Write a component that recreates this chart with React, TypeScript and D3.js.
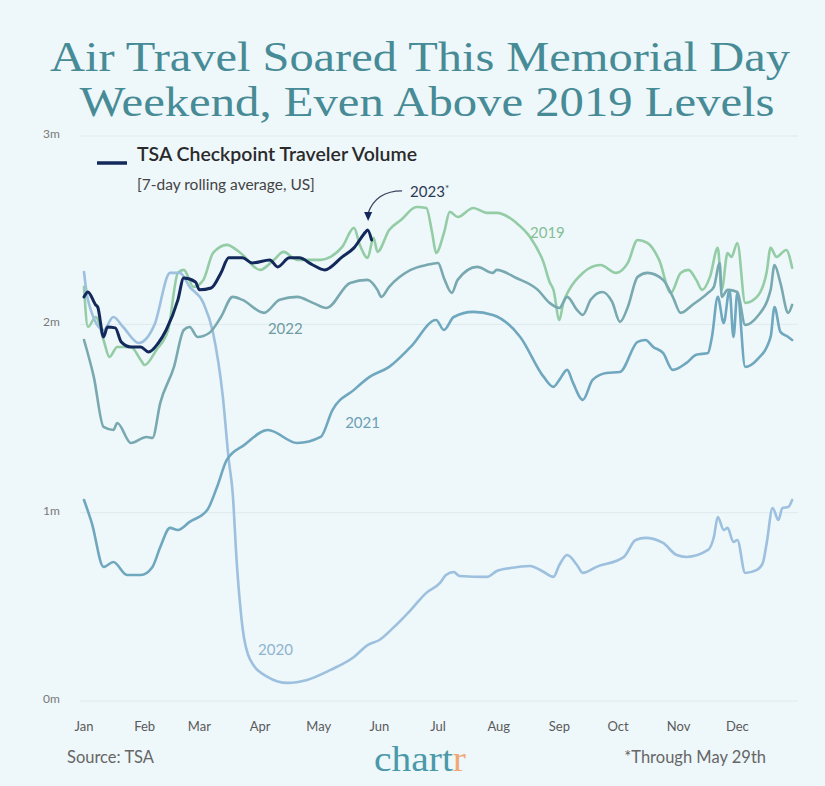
import React from "react";
import * as d3 from "d3";

if (typeof document !== "undefined") {
  document.body.style.margin = "0";
}

// [day of year, travelers in millions]
const series2019: [number, number][] = [
  [0, 2.199], [2, 1.986], [6, 2.039], [10, 1.917], [13, 1.827], [17, 1.88], [24, 1.88], [29, 1.811],
  [31, 1.784], [37, 1.864], [43, 1.97], [48, 2.273], [51, 2.289], [56, 2.199], [61, 2.236], [66, 2.379],
  [73, 2.422], [80, 2.379], [90, 2.289], [97, 2.342], [102, 2.385], [109, 2.342], [121, 2.342], [126, 2.358],
  [132, 2.411], [138, 2.512], [141, 2.422], [145, 2.353], [148, 2.459], [150, 2.385], [156, 2.501], [162, 2.554],
  [170, 2.623], [175, 2.618], [178, 2.485], [180, 2.379], [184, 2.485], [187, 2.597], [191, 2.57], [199, 2.618],
  [206, 2.592], [211, 2.592], [221, 2.539], [228, 2.464], [235, 2.326], [238, 2.225], [240, 2.183], [243, 2.023],
  [245, 2.114], [248, 2.183], [255, 2.273], [264, 2.315], [272, 2.273], [278, 2.326], [283, 2.448], [288, 2.432],
  [294, 2.342], [300, 2.167], [305, 2.273], [309, 2.289], [313, 2.236], [316, 2.183], [320, 2.252], [324, 2.406],
  [326, 2.183], [329, 2.379], [331, 2.358], [334, 2.432], [338, 2.114], [344, 2.146], [349, 2.278], [351, 2.406],
  [354, 2.358], [359, 2.395], [362, 2.3],
];

const series2020: [number, number][] = [
  [0, 2.278], [2, 2.13], [10, 1.97], [15, 2.039], [20, 1.986], [28, 1.901], [36, 1.997], [44, 2.273],
  [49, 2.273], [54, 2.199], [61, 2.114], [66, 1.954], [71, 1.614], [74, 1.28], [76, 1.105], [78, 0.749],
  [81, 0.393], [85, 0.218], [94, 0.127], [104, 0.096], [114, 0.112], [126, 0.165], [138, 0.234], [145, 0.297],
  [151, 0.324], [158, 0.388], [167, 0.483], [175, 0.574], [182, 0.627], [185, 0.669], [189, 0.685], [192, 0.664],
  [206, 0.659], [211, 0.69], [218, 0.706], [228, 0.717], [235, 0.685], [240, 0.659], [243, 0.722], [247, 0.775],
  [252, 0.722], [255, 0.68], [262, 0.712], [276, 0.765], [282, 0.855], [287, 0.866], [296, 0.839], [303, 0.775],
  [308, 0.765], [319, 0.802], [322, 0.871], [324, 0.977], [327, 0.908], [329, 0.919], [332, 0.844], [334, 0.855],
  [338, 0.68], [344, 0.696], [347, 0.733], [349, 0.839], [352, 1.025], [355, 0.961], [357, 1.025], [360, 1.03],
  [362, 1.067],
];

const series2021: [number, number][] = [
  [0, 1.067], [4, 0.945], [10, 0.712], [15, 0.738], [22, 0.669], [29, 0.669], [35, 0.712], [39, 0.818],
  [44, 0.919], [48, 0.908], [54, 0.951], [63, 1.014], [68, 1.136], [73, 1.28], [82, 1.36], [94, 1.439],
  [109, 1.37], [121, 1.402], [127, 1.545], [138, 1.652], [146, 1.721], [156, 1.774], [167, 1.88], [180, 2.023],
  [184, 1.97], [189, 2.039], [199, 2.066], [209, 2.05], [223, 1.933], [235, 1.721], [240, 1.668], [243, 1.705],
  [247, 1.758], [250, 1.689], [255, 1.599], [260, 1.705], [267, 1.742], [274, 1.747], [283, 1.907], [287, 1.917],
  [291, 1.88], [296, 1.848], [301, 1.758], [308, 1.795], [313, 1.838], [319, 1.848], [321, 1.933], [324, 2.146],
  [327, 2.007], [330, 2.183], [332, 1.933], [334, 2.167], [338, 1.774], [344, 1.811], [351, 1.933], [353, 2.092],
  [356, 1.96], [360, 1.933], [362, 1.917],
];

const series2022: [number, number][] = [
  [0, 1.917], [5, 1.721], [10, 1.455], [15, 1.439], [17, 1.476], [24, 1.37], [32, 1.402], [35, 1.397],
  [39, 1.583], [46, 1.774], [51, 1.97], [54, 1.986], [58, 1.933], [64, 1.954], [70, 2.039], [76, 2.146],
  [81, 2.13], [92, 2.061], [100, 2.13], [109, 2.146], [117, 2.114], [124, 2.087], [136, 2.22], [145, 2.236],
  [150, 2.183], [152, 2.146], [156, 2.199], [167, 2.289], [175, 2.315], [181, 2.326], [184, 2.246], [188, 2.167],
  [191, 2.236], [201, 2.305], [209, 2.273], [211, 2.289], [221, 2.246], [232, 2.183], [238, 2.114], [243, 2.087],
  [247, 2.146], [252, 2.077], [255, 2.05], [259, 2.13], [265, 2.172], [270, 2.119], [274, 2.013], [278, 2.092],
  [283, 2.252], [288, 2.273], [296, 2.236], [301, 2.146], [305, 2.061], [311, 2.103], [319, 2.167], [322, 2.199],
  [325, 2.326], [326, 2.146], [329, 2.183], [334, 2.172], [338, 1.997], [344, 2.039], [351, 2.183], [353, 2.315],
  [356, 2.22], [360, 2.061], [362, 2.103],
];

const series2023: [number, number][] = [
  [0, 2.146], [2, 2.172], [6, 2.103], [7, 2.092], [10, 1.933], [12, 1.986], [16, 1.981], [19, 1.907],
  [24, 1.88], [29, 1.88], [33, 1.853], [38, 1.901], [42, 1.97], [48, 2.13], [51, 2.246], [57, 2.225],
  [59, 2.183], [65, 2.193], [70, 2.273], [74, 2.353], [81, 2.353], [86, 2.326], [95, 2.342], [99, 2.305],
  [105, 2.353], [110, 2.353], [117, 2.315], [123, 2.289], [132, 2.358], [138, 2.406], [144, 2.491], [145, 2.501],
  [147, 2.448],
];

const monthLabels = ["Jan", "Feb", "Mar", "Apr", "May", "Jun", "Jul", "Aug", "Sep", "Oct", "Nov", "Dec"];
const monthStartDays = [0, 31, 59, 90, 120, 151, 181, 212, 243, 273, 304, 334];
const yTicks = [0, 1, 2, 3];
const yTickLabels = ["0m", "1m", "2m", "3m"];

const seriesLabels = [
  { text: "2019", day: 228, value: 2.46, color: "#84bf96" },
  { text: "2022", day: 94, value: 1.95, color: "#6f9ba2" },
  { text: "2021", day: 133.5, value: 1.45, color: "#6b9fb4" },
  { text: "2020", day: 89, value: 0.245, color: "#8fb4cf" },
];

const W = 825;
const H = 786;
const BG = "#eef7fa";

export default function App() {
  const x = d3.scaleLinear().domain([0, 365]).range([84, 798]);
  const y = d3.scaleLinear().domain([0, 3]).range([701, 136]);
  const line = d3
    .line<[number, number]>()
    .x((d) => x(d[0]))
    .y((d) => y(d[1]))
    .curve(d3.curveMonotoneX);

  const lines = [
    { data: series2019, color: "#93cca5", width: 2.6 },
    { data: series2020, color: "#9cc0de", width: 2.6 },
    { data: series2021, color: "#6fa7bf", width: 2.6 },
    { data: series2022, color: "#78a9b0", width: 2.6 },
    { data: series2023, color: "#14295b", width: 3 },
  ];

  const last2023 = series2023[series2023.length - 2];
  const ax = x(last2023[0]) + 0.5;
  const ay = y(last2023[1]) - 12;
  const lx = x(166.7);
  const ly = y(2.677);

  return (
    <svg width={W} height={H} style={{ display: "block" }}>
      <rect x={0} y={0} width={W} height={H} fill={BG} />
      <text
        x={420}
        y={71}
        textAnchor="middle"
        fontFamily="'Liberation Serif', serif"
        fontSize={42}
        fill="#468b96"
        textLength={740}
        lengthAdjust="spacingAndGlyphs"
      >
        Air Travel Soared This Memorial Day
      </text>
      <text
        x={427}
        y={116}
        textAnchor="middle"
        fontFamily="'Liberation Serif', serif"
        fontSize={42}
        fill="#468b96"
        textLength={695}
        lengthAdjust="spacingAndGlyphs"
      >
        Weekend, Even Above 2019 Levels
      </text>

      {yTicks.map((t, i) => (
        <g key={t}>
          <line x1={x(0) - 4} x2={x(365)} y1={y(t)} y2={y(t)} stroke="#dfeaee" strokeWidth={1} />
          <text
            x={43}
            y={y(t) - 1}
            fontFamily="Lato, sans-serif"
            fontSize={12}
            fill="#7a7a7a"
            dominantBaseline="middle"
          >
            {yTickLabels[i]}
          </text>
        </g>
      ))}

      {monthLabels.map((m, i) => (
        <text
          key={m}
          x={x(monthStartDays[i])}
          y={731}
          textAnchor="middle"
          fontFamily="Lato, sans-serif"
          fontSize={13}
          fill="#5a5a5a"
        >
          {m}
        </text>
      ))}

      {lines.map((l, i) => (
        <path
          key={i}
          d={line(l.data) || ""}
          fill="none"
          stroke={l.color}
          strokeWidth={l.width}
          strokeLinejoin="round"
          strokeLinecap="round"
        />
      ))}

      {seriesLabels.map((s) => (
        <text
          key={s.text}
          x={x(s.day)}
          y={y(s.value)}
          fontFamily="Lato, sans-serif"
          fontSize={15}
          fill={s.color}
        >
          {s.text}
        </text>
      ))}

      {/* Legend */}
      <line x1={97} x2={127} y1={163} y2={163} stroke="#14295b" strokeWidth={3.5} />
      <text x={137} y={161} fontFamily="Lato, sans-serif" fontWeight={600} fontSize={19} fill="#2a2a2a" textLength={280} lengthAdjust="spacingAndGlyphs">
        TSA Checkpoint Traveler Volume
      </text>
      <text x={137} y={190} fontFamily="Lato, sans-serif" fontSize={15.5} fill="#444">
        [7-day rolling average, US]
      </text>

      {/* 2023 annotation */}
      <text x={lx} y={ly} fontFamily="Lato, sans-serif" fontSize={15} fill="#2c3a55">
        2023
        <tspan fontSize={10} dy={-5}>*</tspan>
      </text>
      <path
        d={`M${lx - 8},${ly - 6} Q${ax + 8},${ly - 6} ${ax},${ay - 5}`}
        fill="none"
        stroke="#3a4660"
        strokeWidth={1.2}
      />
      <path d={`M${ax - 4},${ay - 6} L${ax + 4},${ay - 6} L${ax},${ay + 3} Z`} fill="#14295b" />

      {/* Footer */}
      <text x={67} y={763} fontFamily="Lato, sans-serif" fontSize={16.5} fill="#666">
        Source: TSA
      </text>
      <text x={420} y={771} textAnchor="middle" fontFamily="'Liberation Serif', serif" fontSize={36} fill="#4a99a8" textLength={92} lengthAdjust="spacingAndGlyphs">
        chart<tspan fill="#f0a874">r</tspan>
      </text>
      <text x={766} y={763} textAnchor="end" fontFamily="Lato, sans-serif" fontSize={16.5} fill="#666">
        *Through May 29th
      </text>
    </svg>
  );
}
